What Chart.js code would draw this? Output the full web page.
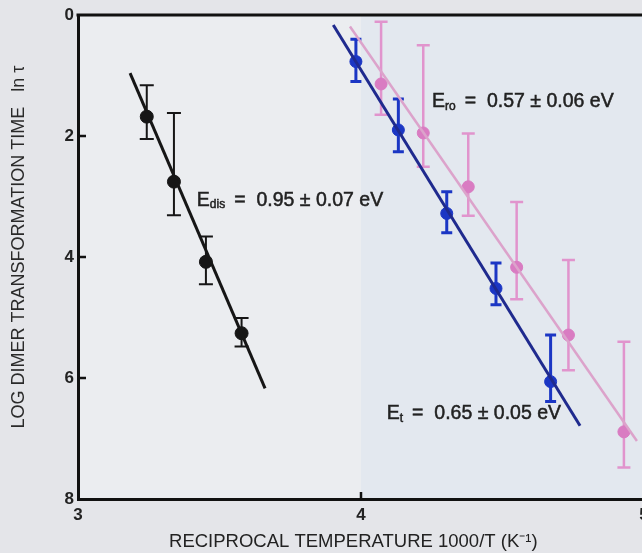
<!DOCTYPE html>
<html lang="en">
<head>
  <meta charset="UTF-8" />
  <title>Dimer transformation time vs reciprocal temperature</title>
  <script src="https://cdn.jsdelivr.net/npm/chart.js"></script>
  <style>
    body { margin: 0; background: #e4e5e9; overflow: hidden; }
    #wrap { width: 700px; height: 553px; }
  </style>
</head>
<body>
  <div id="wrap"><canvas id="chart" width="700" height="553"></canvas></div>

  <script>
    // x = 1000/T (K^-1), y = ln tau ; lo/hi = error bar ends
    const disX  = [3.243, 3.339, 3.452, 3.578];
    const disY  = [1.68, 2.755, 4.08, 5.26];
    const disLo = [1.16, 1.62, 3.66, 5.01];
    const disHi = [2.05, 3.31, 4.45, 5.48];
    const disFitX = [3.184, 3.661];
    const disFitY = [0.96, 6.17];

    const tX  = [3.982, 4.132, 4.303, 4.477, 4.670];
    const tY  = [0.77, 1.90, 3.28, 4.52, 6.06];
    const tLo = [0.40, 1.39, 2.92, 4.10, 5.29];
    const tHi = [1.10, 2.26, 3.60, 4.79, 6.39];
    const tFitX = [3.902, 4.774];
    const tFitY = [0.165, 6.79];

    const roX  = [4.071, 4.220, 4.379, 4.550, 4.733, 4.929];
    const roY  = [1.14, 1.95, 2.84, 4.17, 5.29, 6.89];
    const roLo = [0.11, 0.50, 1.96, 3.09, 4.05, 5.40];
    const roHi = [1.65, 2.51, 3.32, 4.70, 5.87, 7.48];
    const roFitX = [3.961, 4.975];
    const roFitY = [0.19, 7.04];

    const xTicks = [3, 4, 5];
    const yTicks = [0, 2, 4, 6, 8];

    // annotation text: [x, y, subscript, rest]
    const labels = [
      [3.420, 3.06, 'dis', '=  0.95 \u00b1 0.07 eV'],
      [4.251, 1.43, 'ro',  '=  0.57 \u00b1 0.06 eV'],
      [4.091, 6.59, 't',   '=  0.65 \u00b1 0.05 eV']
    ];

    const BLACK = '#161616', BLUE = '#1b36c4', NAVY = '#1f2a8e', PINK = '#d97cc2', PINKLINE = '#dca3cb';
    const FONT = '"Liberation Sans", Arial, sans-serif';

    const pts = (xs, ys) => xs.map((v, i) => ({ x: v, y: ys[i] }));

    const bars = [
      { x: roX, lo: roLo, hi: roHi, color: '#e194cd', cap: 13, w: 2.5 },
      { x: tX, lo: tLo, hi: tHi, color: BLUE, cap: 11, w: 3 },
      { x: disX, lo: disLo, hi: disHi, color: BLACK, cap: 14, w: 2 }
    ];

    const bgPlugin = {
      id: 'bg',
      beforeDraw(chart) {
        const { ctx, chartArea: a, scales: { x } } = chart;
        ctx.save();
        ctx.fillStyle = '#e4e5e9';
        ctx.fillRect(0, 0, chart.width, chart.height);
        const xm = x.getPixelForValue(4);
        ctx.fillStyle = '#ebedf0';
        ctx.fillRect(a.left, a.top, xm - a.left, a.bottom - a.top);
        ctx.fillStyle = '#e3e8ef';
        ctx.fillRect(xm, a.top, a.right - xm, a.bottom - a.top);
        ctx.restore();
      }
    };

    const errPlugin = {
      id: 'err',
      beforeDatasetsDraw(chart) {
        const { ctx, scales: { x, y } } = chart;
        ctx.save();
        bars.forEach(b => {
          ctx.strokeStyle = b.color;
          ctx.lineWidth = b.w;
          b.x.forEach((v, i) => {
            const px = x.getPixelForValue(v);
            const y1 = y.getPixelForValue(b.lo[i]);
            const y2 = y.getPixelForValue(b.hi[i]);
            ctx.beginPath();
            ctx.moveTo(px, y1); ctx.lineTo(px, y2);
            ctx.moveTo(px - b.cap / 2, y1); ctx.lineTo(px + b.cap / 2, y1);
            ctx.moveTo(px - b.cap / 2, y2); ctx.lineTo(px + b.cap / 2, y2);
            ctx.stroke();
          });
        });
        ctx.restore();
      }
    };

    const framePlugin = {
      id: 'frame',
      afterDraw(chart) {
        const { ctx, chartArea: a, scales: { x, y } } = chart;
        ctx.save();
        ctx.strokeStyle = '#111';
        ctx.lineWidth = 3;
        ctx.beginPath();
        ctx.moveTo(a.left - 1.5, a.top); ctx.lineTo(a.right, a.top);
        ctx.stroke();
        ctx.lineWidth = 2.5;
        ctx.beginPath();
        [2, 4, 6].forEach(v => {
          const py = y.getPixelForValue(v);
          ctx.moveTo(a.left, py); ctx.lineTo(a.left + 8, py);
        });
        const px = x.getPixelForValue(4);
        ctx.moveTo(px, a.bottom); ctx.lineTo(px, a.bottom - 7);
        ctx.stroke();

        // energy annotations
        ctx.fillStyle = '#222';
        ctx.strokeStyle = '#222';
        ctx.lineWidth = 0.5;
        ctx.textBaseline = 'middle';
        const put = (t, px, py) => { ctx.fillText(t, px, py); ctx.strokeText(t, px, py); };
        labels.forEach(([lx, ly, sub, rest]) => {
          let px = x.getPixelForValue(lx);
          const py = y.getPixelForValue(ly);
          ctx.font = '19.5px ' + FONT;
          put('E', px, py);
          px += ctx.measureText('E').width;
          ctx.font = '12px ' + FONT;
          put(sub, px, py + 5);
          px += ctx.measureText(sub).width + 9;
          ctx.font = '19.5px ' + FONT;
          put(rest, px, py);
        });
        ctx.restore();
      }
    };

    const ctx = document.getElementById('chart').getContext('2d');
    new Chart(ctx, {
      type: 'scatter',
      data: {
        datasets: [
          { type: 'line', data: pts(roFitX, roFitY), borderColor: PINKLINE, borderWidth: 2.5, pointRadius: 0 },
          { data: pts(roX, roY), backgroundColor: PINK, borderColor: PINK, pointRadius: 6 },
          { type: 'line', data: pts(tFitX, tFitY), borderColor: NAVY, borderWidth: 3, pointRadius: 0 },
          { data: pts(tX, tY), backgroundColor: BLUE, borderColor: BLUE, pointRadius: 6 },
          { type: 'line', data: pts(disFitX, disFitY), borderColor: BLACK, borderWidth: 3, pointRadius: 0 },
          { data: pts(disX, disY), backgroundColor: BLACK, borderColor: BLACK, pointRadius: 6.5 }
        ]
      },
      options: {
        responsive: false,
        animation: false,
        layout: { padding: { top: 15, right: 56, left: 0, bottom: 0 } },
        plugins: { legend: { display: false }, tooltip: { enabled: false } },
        scales: {
          x: {
            type: 'linear', min: 3, max: 5,
            afterBuildTicks: s => { s.ticks = xTicks.map(v => ({ value: v })); },
            afterFit: s => { s.height = 54; },
            grid: { display: false, drawTicks: false },
            border: { display: true, width: 3, color: '#111' },
            ticks: { padding: 6, color: '#222', font: { size: 17, weight: 'bold', family: FONT } },
            title: { display: true, text: 'RECIPROCAL TEMPERATURE 1000/T (K\u207b\u00b9)   ', color: '#222',
                     padding: { top: 0, bottom: 0 }, font: { size: 18.5, family: FONT } }
          },
          y: {
            type: 'linear', min: 0, max: 8, reverse: true,
            afterBuildTicks: s => { s.ticks = yTicks.map(v => ({ value: v })); },
            afterFit: s => { s.width = 78; },
            grid: { display: false, drawTicks: false },
            border: { display: true, width: 3, color: '#111' },
            ticks: { padding: 4, color: '#222', font: { size: 17, weight: 'bold', family: FONT } },
            title: { display: true, text: '    LOG DIMER TRANSFORMATION TIME   ln \u03c4', color: '#2a2a2a',
                     padding: { top: 8, bottom: 0 }, font: { size: 18, family: FONT } }
          }
        }
      },
      plugins: [bgPlugin, errPlugin, framePlugin]
    });
  </script>
</body>
</html>
